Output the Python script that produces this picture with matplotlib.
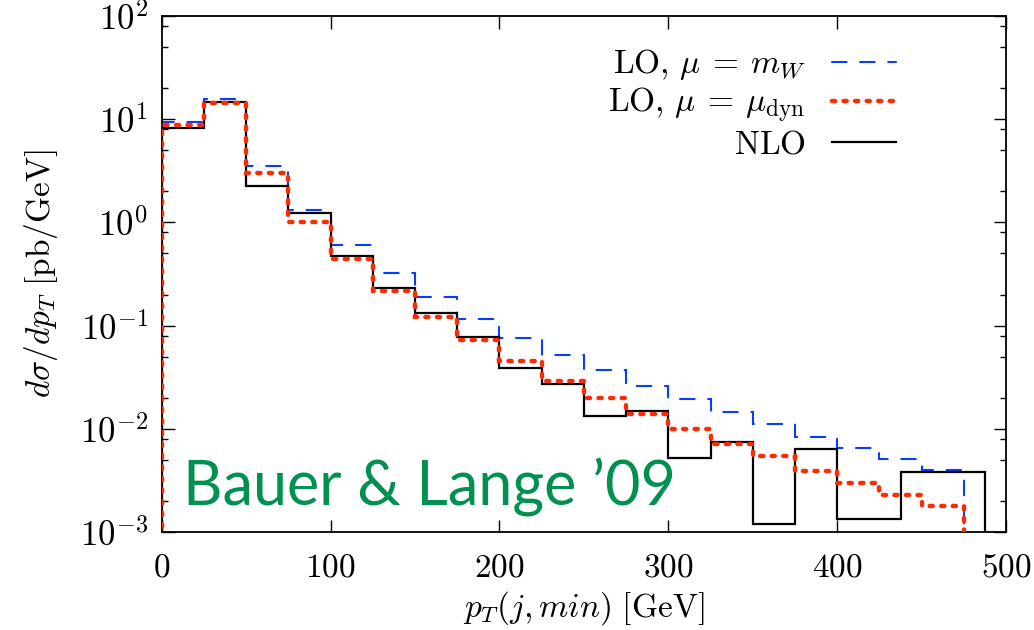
import numpy as np
import matplotlib
matplotlib.use("Agg")
import matplotlib.pyplot as plt
from matplotlib import ticker
from matplotlib.lines import Line2D

plt.rcParams['mathtext.fontset'] = 'cm'
plt.rcParams['font.family'] = 'serif'

# bin edges [GeV]
lo_edges = [0, 25, 50, 75, 100, 125, 150, 175, 200, 225, 250, 275, 300,
            325, 350, 375, 400, 425, 450, 475]
nlo_edges = [0, 25, 50, 75, 100, 125, 150, 175, 200, 225, 250, 275, 300,
             325, 350, 375, 400, 437.5, 487.5]

# dsigma/dpT [pb/GeV]
lo_mw = [9.3, 15.6, 3.5, 1.32, 0.60, 0.32, 0.188, 0.116, 0.075, 0.052,
         0.037, 0.026, 0.0193, 0.0146, 0.0111, 0.0083, 0.0065, 0.0051, 0.004]
lo_dyn = [8.8, 14.3, 3.0, 1.02, 0.44, 0.218, 0.122, 0.073, 0.045, 0.029,
          0.0197, 0.0138, 0.0099, 0.0072, 0.0054, 0.0039, 0.003, 0.0023, 0.0018]
nlo = [8.2, 14.7, 2.25, 1.24, 0.476, 0.23, 0.131, 0.077, 0.0385, 0.027,
       0.0134, 0.015, 0.0052, 0.0075, 0.0012, 0.0064, 0.00134, 0.0038]

labels = [r'$\mathrm{LO},\,\mu\:=\:m_W$',
          r'$\mathrm{LO},\,\mu\:=\:\mu_\mathrm{dyn}$',
          r'$\mathrm{NLO}$']

# line styles: (colour, width, dash pattern)
blue = ('#0a3cff', 1.5, (0, (7, 6.5)))
red = ('#ff2a00', 3.2, (0, (0.7, 1.9)))
black = ('black', 1.6, '-')

fig = plt.figure(figsize=(10.34, 6.3), dpi=100)
ax = fig.add_axes([0.1564, 0.1556, 0.8166, 0.819])

# histograms, drawn down to below the axis floor
for vals, edges, st, z in [(lo_mw, lo_edges, blue, 2),
                           (nlo, nlo_edges, black, 2.5),
                           (lo_dyn, lo_edges, red, 3)]:
    s = ax.stairs(vals, edges, baseline=1e-5, color=st[0], lw=st[1],
                  linestyle=st[2], zorder=z)
    s.set_capstyle('round')

ax.set_yscale('log')
ax.set_xlim(0, 500)
ax.set_ylim(1e-3, 1e2)

ax.xaxis.set_major_locator(ticker.MultipleLocator(100))
ax.xaxis.set_major_formatter(ticker.FuncFormatter(lambda v, p: r'$%d$' % v))
ax.yaxis.set_major_locator(ticker.LogLocator(base=10, numticks=10))
ax.yaxis.set_minor_locator(ticker.LogLocator(base=10, subs=[2, 5, 8], numticks=10))
ax.yaxis.set_major_formatter(ticker.FuncFormatter(
    lambda v, p: r'$10^{%d}$' % round(np.log10(v))))
ax.yaxis.set_minor_formatter(ticker.NullFormatter())
ax.tick_params(which='both', direction='in', top=True, right=True)
ax.tick_params(axis='x', labelsize=24, pad=14)
ax.tick_params(axis='y', labelsize=25, pad=10)
ax.tick_params(which='major', length=9, width=1)
ax.tick_params(which='minor', length=4.5, width=1)
for sp in ax.spines.values():
    sp.set_linewidth(1.3)

ax.set_xlabel(r'$p_T(j,min)\ [\mathrm{GeV}]$', fontsize=24, labelpad=4)
ax.set_ylabel(r'$d\sigma/dp_T\ [\mathrm{pb/GeV}]$', fontsize=24, labelpad=14)

handles = [Line2D([], [], color=c, lw=w, linestyle=ls, dash_capstyle='round')
           for c, w, ls in (blue, red, black)]
ax.legend(handles, labels, loc='upper right', bbox_to_anchor=(0.885, 0.965),
          frameon=False, markerfirst=False, fontsize=24, handlelength=1.9,
          handletextpad=0.8, labelspacing=0.1, borderaxespad=0)

ax.text(0.025, 0.052, 'Bauer & Lange \u201909', transform=ax.transAxes,
        fontsize=44, color='#009150', family='Lato', va='baseline', zorder=5)

fig.savefig('out.png', dpi=100)
